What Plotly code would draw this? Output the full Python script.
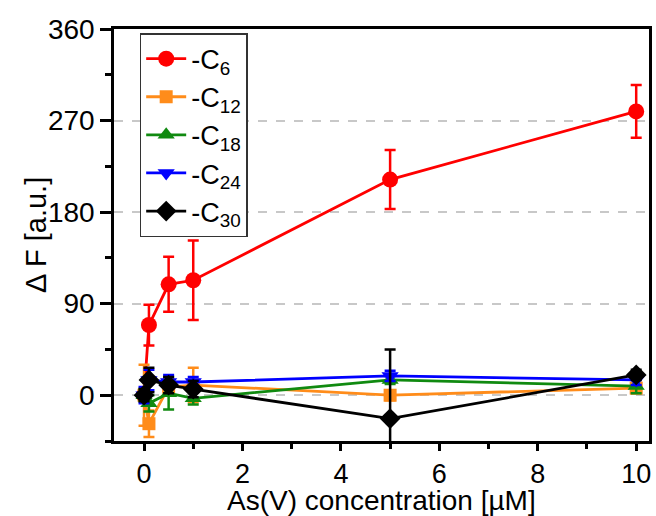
import plotly.graph_objects as go

conc = [0, 0.1, 0.5, 1, 5, 10]

c6 = [0, 69, 109, 113, 212, 279]
c6_err = [4, 20, 27, 39, 29, 26]

c12 = [0, -28, 8, 10, 0, 7]
c12_err = [30, 13, 8, 17, 5, 5]

c18 = [0, -8, 2, -3, 15, 9]
c18_err = [6, 8, 16, 6, 4, 7]

c24 = [0, 15, 13, 13, 19, 15]
c24_err = [8, 10, 7, 5, 5, 5]

c30 = [0, 15, 10, 6, -23, 20]
c30_err = [6, 12, 8, 8, 68, 5]

names = ["-C<sub>6</sub>", "-C<sub>12</sub>", "-C<sub>18</sub>", "-C<sub>24</sub>", "-C<sub>30</sub>"]
colors = ["#ff0000", "#ff8c1a", "#108a10", "#0000ff", "#000000"]
symbols = ["circle", "square", "triangle-up", "triangle-down", "diamond"]
msizes = [16, 13, 15, 15, 16]

x_title = "As(V) concentration [µM]"
y_title = "Δ F [a.u.]"

series = [(c6, c6_err), (c12, c12_err), (c18, c18_err), (c24, c24_err), (c30, c30_err)]

FONT = "Liberation Sans, Arial, sans-serif"

fig = go.Figure()
for (vals, errs), name, col, sym, ms in zip(series, names, colors, symbols, msizes):
    fig.add_trace(go.Scatter(
        x=conc, y=vals, name=name, mode="lines+markers",
        line=dict(color=col, width=2.8),
        marker=dict(symbol=sym, size=ms, color=col, line=dict(width=0)),
        error_y=dict(type="data", array=errs, visible=True, color=col,
                     thickness=2.5, width=5.5),
    ))

fig.update_layout(
    width=656, height=516,
    margin=dict(l=114, r=7, t=29, b=75),
    paper_bgcolor="white", plot_bgcolor="white",
    font=dict(family=FONT, color="black", size=28),
    showlegend=True,
    legend=dict(
        x=0.048, y=0.99, xanchor="left", yanchor="top",
        bgcolor="white", bordercolor="#333333", borderwidth=1.5,
        font=dict(size=27, family=FONT),
        tracegroupgap=0, itemwidth=40,
    ),
    annotations=[
        dict(text=x_title, xref="paper", yref="paper", x=0.5, y=-0.145,
             xanchor="center", yanchor="middle", showarrow=False,
             font=dict(size=28, family=FONT, color="black")),
        dict(text=y_title, xref="paper", yref="paper", x=-0.146, y=0.5,
             xanchor="center", yanchor="middle", showarrow=False, textangle=-90,
             font=dict(size=29, family=FONT, color="black")),
    ],
)

fig.update_xaxes(
    automargin=False,
    range=[-0.61, 10.26],
    tickvals=[0, 2, 4, 6, 8, 10],
    ticks="outside", ticklen=7, tickwidth=2.5, tickcolor="black",
    minor=dict(dtick=1, tick0=0, ticks="outside", ticklen=5, tickwidth=2.5, tickcolor="black", showgrid=False),
    showline=True, linecolor="black", linewidth=2.5, mirror=True,
    showgrid=False, zeroline=False,
    tickfont=dict(size=27, family=FONT),
)

fig.update_yaxes(
    automargin=False,
    range=[-45, 360],
    tickvals=[0, 90, 180, 270, 360],
    ticks="outside", ticklen=11, tickwidth=2.5, tickcolor="black",
    minor=dict(dtick=45, tick0=0, ticks="outside", ticklen=6, tickwidth=2.5, tickcolor="black", showgrid=False),
    showline=True, linecolor="black", linewidth=2.5, mirror=True,
    showgrid=True, gridcolor="#c8c8c8", gridwidth=1.5, griddash="dash",
    zeroline=False,
    tickfont=dict(size=28, family=FONT),
)

fig.write_html(
    "out.html",
    config={"displayModeBar": False},
    post_script="document.body.style.margin='0';document.body.style.padding='0';",
)
